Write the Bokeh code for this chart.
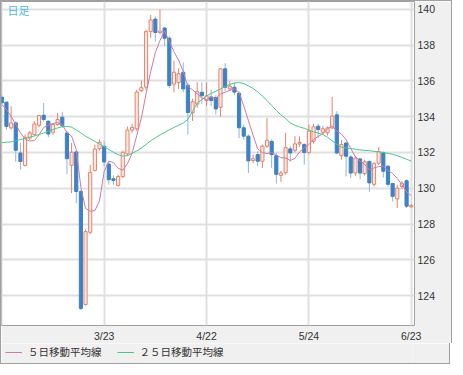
from bokeh.plotting import figure
from bokeh.layouts import column
from bokeh.models import ColumnDataSource, FixedTicker, Legend, LegendItem, Label, Range1d
from bokeh.embed import file_html
from bokeh.resources import INLINE

# ---- data ----
x_ticks = [0, 22, 44, 66, 88]
x_tick_labels = ["", "3/23", "4/22", "5/24", "6/23"]
y_ticks = [124, 126, 128, 130, 132, 134, 136, 138, 140]
series_names = ["５日移動平均線", "２５日移動平均線"]

opens = [135.09, 134.81, 133.37, 133.65, 131.97, 131.28, 132.81, 133.00, 133.52, 134.08,
         133.74, 133.13, 133.56, 133.97, 133.09, 131.28, 132.03, 129.82, 123.51, 127.54,
         131.00, 132.21, 132.34, 131.35, 130.53, 130.16, 130.66, 131.92, 133.25, 133.32,
         135.45, 135.65, 138.75, 139.45, 138.70, 138.95, 138.38, 135.82, 135.90, 136.48,
         135.75, 134.23, 134.70, 135.36, 134.90, 135.10, 135.07, 134.52, 136.67, 135.55,
         135.64, 135.30, 133.38, 132.91, 131.55, 131.88, 131.51, 132.35, 132.62, 131.82,
         130.72, 130.87, 132.20, 132.12, 132.48, 132.45, 132.00, 132.63, 133.47, 133.13,
         133.10, 133.37, 134.10, 131.82, 132.53, 131.75, 130.85, 131.64, 130.82, 131.50,
         130.22, 131.40, 131.97, 131.23, 130.26, 129.40, 130.10, 130.42, 128.97]
highs = [135.20, 134.85, 134.58, 133.74, 132.53, 133.00, 133.20, 133.75, 134.10, 134.77,
         133.80, 133.65, 134.21, 134.27, 133.20, 132.53, 132.10, 129.90, 127.70, 131.30,
         132.44, 132.72, 132.62, 131.50, 130.72, 130.75, 132.10, 133.45, 133.60, 135.50,
         136.02, 138.85, 139.68, 139.59, 140.00, 138.99, 138.50, 137.12, 136.70, 137.03,
         135.90, 135.00, 135.92, 135.92, 135.90, 135.50, 135.20, 136.70, 136.98, 136.00,
         135.90, 135.40, 133.55, 133.00, 131.88, 132.07, 132.44, 133.93, 132.72, 131.97,
         130.98, 133.10, 132.35, 132.91, 132.90, 132.50, 133.56, 133.60, 133.60, 133.50,
         133.45, 135.10, 134.30, 132.70, 132.60, 131.85, 131.79, 131.70, 131.60, 131.55,
         131.45, 132.30, 132.05, 131.30, 130.30, 130.20, 130.40, 130.50, 129.10]
lows = [134.70, 133.28, 133.28, 131.47, 131.04, 131.22, 132.70, 132.95, 133.40, 133.74,
        132.85, 133.00, 133.50, 133.37, 130.79, 129.73, 129.17, 123.20, 123.45, 127.45,
        130.94, 132.10, 131.22, 130.20, 130.20, 130.10, 130.57, 131.80, 133.10, 133.20,
        135.37, 135.50, 138.40, 138.19, 138.60, 137.95, 135.60, 135.36, 135.55, 135.36,
        133.00, 133.76, 134.50, 134.70, 134.60, 134.60, 134.12, 134.00, 135.40, 135.45,
        135.20, 132.80, 132.72, 130.85, 131.41, 131.23, 131.13, 132.25, 131.13, 130.26,
        130.36, 130.76, 131.50, 132.00, 132.30, 131.32, 131.90, 132.50, 132.80, 133.00,
        132.95, 133.30, 131.90, 131.60, 130.67, 130.57, 130.70, 130.50, 130.70, 129.80,
        130.10, 131.30, 130.60, 130.10, 129.26, 128.90, 129.95, 128.90, 128.90]
closes = [134.77, 133.46, 133.65, 132.12, 131.50, 132.85, 133.09, 133.59, 134.06, 133.84,
          133.03, 133.56, 133.84, 133.50, 131.65, 132.01, 129.82, 123.29, 127.58, 130.89,
          132.19, 132.57, 131.47, 130.48, 130.44, 130.66, 132.01, 133.25, 133.40, 135.37,
          135.62, 138.75, 139.40, 138.70, 138.78, 138.38, 135.74, 136.48, 136.40, 135.55,
          134.23, 134.83, 135.40, 135.17, 135.16, 134.90, 134.43, 136.67, 135.64, 135.70,
          135.37, 133.38, 132.91, 131.53, 131.65, 131.51, 132.35, 132.68, 131.88, 130.78,
          130.85, 132.27, 131.97, 132.48, 132.56, 132.00, 133.19, 133.43, 133.28, 133.32,
          133.37, 134.03, 131.97, 132.44, 131.79, 130.85, 131.69, 130.85, 131.48, 130.30,
          131.38, 132.05, 130.95, 130.22, 129.55, 130.00, 130.28, 129.00, 129.05]
ma5 = [134.68, 134.40, 134.02, 133.56, 133.10, 132.75, 132.64, 132.66, 132.98, 133.40,
       133.52, 133.62, 133.67, 133.55, 133.12, 132.91, 132.16, 130.05, 128.87, 128.72,
       128.75, 129.30, 130.94, 131.52, 131.43, 131.12, 131.01, 131.37, 131.95, 132.94,
       133.93, 135.28, 136.51, 137.57, 138.25, 138.80, 138.20, 137.62, 137.16, 136.51,
       135.68, 135.50, 135.28, 135.04, 134.96, 135.09, 135.01, 135.27, 135.36, 135.47,
       135.56, 135.35, 134.60, 133.78, 132.97, 132.20, 131.99, 131.94, 132.01, 131.84,
       131.71, 131.69, 131.55, 131.67, 132.03, 132.26, 132.44, 132.73, 132.89, 133.04,
       133.32, 133.49, 133.19, 133.03, 132.72, 132.22, 131.75, 131.52, 131.33, 131.03,
       131.14, 131.21, 131.23, 130.98, 130.83, 130.55, 130.20, 129.81, 129.58]
ma25 = [132.55, 132.57, 132.59, 132.65, 132.72, 132.78, 132.85, 132.92, 133.00, 133.09,
        133.18, 133.28, 133.37, 133.44, 133.46, 133.41, 133.26, 133.09, 132.90, 132.77,
        132.62, 132.47, 132.32, 132.16, 132.01, 131.88, 131.80, 131.82, 131.95, 132.08,
        132.25, 132.45, 132.65, 132.82, 132.98, 133.12, 133.26, 133.40, 133.52, 133.64,
        133.85, 134.30, 134.75, 134.95, 135.15, 135.30, 135.42, 135.55, 135.68, 135.80,
        135.88, 135.90, 135.85, 135.72, 135.58, 135.38, 135.15, 134.90, 134.62, 134.35,
        134.10, 133.90, 133.65, 133.52, 133.42, 133.35, 133.25, 133.15, 133.08, 133.00,
        132.85, 132.65, 132.45, 132.30, 132.25, 132.22, 132.18, 132.14, 132.12, 132.10,
        132.06, 132.03, 132.00, 131.95, 131.90, 131.82, 131.72, 131.62, 131.52]

idx = list(range(len(opens)))

def subset(flag):
    keep = [i for i in idx if (closes[i] >= opens[i]) == flag]
    return ColumnDataSource(dict(
        x=keep,
        o=[opens[i] for i in keep],
        c=[closes[i] for i in keep],
        h=[highs[i] for i in keep],
        l=[lows[i] for i in keep],
    ))

src_up = subset(True)
src_dn = subset(False)
src_ma = ColumnDataSource(dict(x=idx, ma5=ma5, ma25=ma25))

UP_LINE = "#e8826a"
UP_FILL = "#fdebe5"
DN_FILL = "#3d82c4"
DN_WICK = "#8db6de"
MA5_COLOR = "#cc7aa6"
MA25_COLOR = "#4dc68c"
PANEL = "#f0f0f0"
FRAME = "1px solid #a0a0a0"

p = figure(frame_width=411, frame_height=323,
           x_range=Range1d(-0.065, 88.7), y_range=Range1d(122.336, 140.431),
           output_backend="svg", toolbar_location=None, y_axis_location="right",
           min_border_left=0, min_border_top=0, min_border_right=39, min_border_bottom=18)
p.styles = {"border-top": FRAME, "border-left": FRAME, "border-right": FRAME}
p.background_fill_color = "white"
p.border_fill_color = PANEL
p.outline_line_color = "#a0a0a0"

# axes
yax = p.yaxis[0]
yax.ticker = FixedTicker(ticks=y_ticks)
xax = p.xaxis[0]
xax.ticker = FixedTicker(ticks=x_ticks)
xax.major_label_overrides = {t: lab for t, lab in zip(x_ticks, x_tick_labels)}
for ax in (xax, yax):
    ax.axis_line_color = None
    ax.major_tick_out = 0
    ax.major_tick_in = 0
    ax.minor_tick_out = 0
    ax.minor_tick_in = 0
    ax.major_label_text_font = "Liberation Sans"
    ax.major_label_text_font_size = "10.5px"
    ax.major_label_text_color = "#333333"
yax.major_label_standoff = 3
xax.major_label_standoff = 4

p.xgrid.ticker = FixedTicker(ticks=x_ticks)
p.ygrid.ticker = FixedTicker(ticks=y_ticks)
for g in (p.xgrid, p.ygrid):
    g.grid_line_color = "#e0e0e0"
    g.grid_line_width = 2

# candles
p.segment(x0="x", y0="h", x1="x", y1="l", source=src_up, line_color=UP_LINE, line_width=1)
p.segment(x0="x", y0="h", x1="x", y1="l", source=src_dn, line_color=DN_WICK, line_width=1)
p.vbar(x="x", bottom="o", top="c", width=0.68, source=src_up,
       fill_color=UP_FILL, line_color=UP_LINE, line_width=1)
p.vbar(x="x", bottom="c", top="o", width=0.68, source=src_dn,
       fill_color=DN_FILL, line_color=DN_FILL, line_width=1)

# moving averages
p.line("x", "ma5", source=src_ma, line_color=MA5_COLOR, line_width=1)
p.line("x", "ma25", source=src_ma, line_color=MA25_COLOR, line_width=1)

p.add_layout(Label(x=1.23, y=140.38, text="日足", text_baseline="top",
                   text_font="Noto Sans CJK JP", text_font_size="11px",
                   text_color="#4cb8ec"))

# legend strip below the chart (its lines use the same MA data, outside the strip's range)
lg = figure(width=450, height=21, x_range=Range1d(0, 1), y_range=Range1d(0, 1),
            output_backend="svg", toolbar_location=None,
            min_border_left=0, min_border_right=0, min_border_top=0, min_border_bottom=0)
lg.styles = {"border-left": FRAME, "border-right": FRAME, "border-bottom": FRAME}
lg.axis.visible = False
lg.grid.visible = False
lg.outline_line_color = None
lg.background_fill_color = PANEL
lg.border_fill_color = PANEL
k5 = lg.line("x", "ma5", source=src_ma, line_color=MA5_COLOR, line_width=1)
k25 = lg.line("x", "ma25", source=src_ma, line_color=MA25_COLOR, line_width=1)
legend = Legend(items=[LegendItem(label=series_names[0], renderers=[k5]),
                       LegendItem(label=series_names[1], renderers=[k25])],
                orientation="horizontal", location=(4, 5))
legend.label_text_font = "Noto Sans CJK JP"
legend.label_text_font_size = "10.5px"
legend.label_text_color = "#333333"
legend.glyph_width = 17
legend.glyph_height = 12
legend.label_height = 12
legend.label_standoff = 6
legend.spacing = 15
legend.padding = 2
legend.margin = 0
legend.border_line_color = None
legend.background_fill_alpha = 0
lg.add_layout(legend, "center")

layout = column(p, lg, spacing=0)
open("out.html", "w").write(file_html(layout, INLINE))
